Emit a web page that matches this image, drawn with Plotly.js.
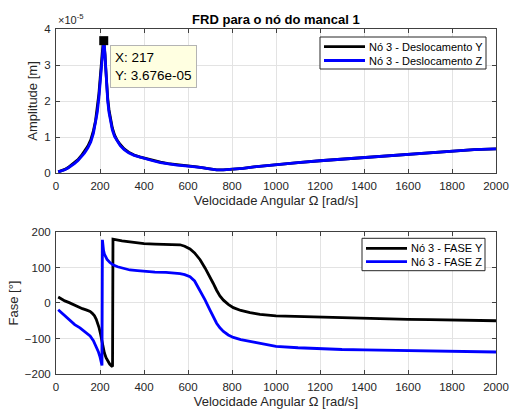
<!DOCTYPE html>
<html>
<head>
<meta charset="utf-8">
<script src="https://cdn.plot.ly/plotly-3.0.1.min.js"></script>
<style>html,body{margin:0;padding:0;background:#fff;}#chart{width:510px;height:410px;}</style>
</head>
<body>
<div id="chart"></div>
<script>
// Amplitude (units of 1e-5 m)
const ampW = [10, 25, 40, 55, 70, 85, 100, 115, 130, 145, 158, 170, 180, 188, 195, 201, 206, 210, 214, 217, 220, 223, 226, 230, 235, 241, 248, 256, 266, 278, 292, 310, 330, 355, 380, 410, 440, 475, 510, 550, 600, 640, 665, 690, 710, 730, 760, 800, 850, 900, 1000, 1100, 1200, 1300, 1400, 1500, 1600, 1700, 1800, 1900, 2000];
const ampY = [0.03, 0.055, 0.10, 0.15, 0.22, 0.29, 0.37, 0.48, 0.60, 0.75, 0.92, 1.17, 1.46, 1.80, 2.20, 2.65, 3.08, 3.40, 3.60, 3.64, 3.52, 3.28, 2.92, 2.48, 2.08, 1.75, 1.48, 1.25, 1.06, 0.91, 0.79, 0.67, 0.58, 0.50, 0.45, 0.40, 0.35, 0.30, 0.26, 0.225, 0.195, 0.17, 0.15, 0.12, 0.095, 0.085, 0.085, 0.10, 0.13, 0.17, 0.24, 0.29, 0.34, 0.385, 0.43, 0.48, 0.53, 0.575, 0.62, 0.65, 0.67];
const ampZ = [0.03, 0.05, 0.09, 0.14, 0.20, 0.27, 0.35, 0.45, 0.56, 0.70, 0.86, 1.10, 1.38, 1.70, 2.10, 2.55, 3.00, 3.35, 3.60, 3.676, 3.55, 3.25, 2.85, 2.40, 2.00, 1.68, 1.42, 1.20, 1.02, 0.88, 0.76, 0.65, 0.56, 0.49, 0.44, 0.39, 0.34, 0.29, 0.25, 0.22, 0.19, 0.17, 0.15, 0.12, 0.095, 0.085, 0.085, 0.10, 0.13, 0.17, 0.24, 0.29, 0.34, 0.385, 0.43, 0.48, 0.53, 0.575, 0.62, 0.65, 0.67];

// Phase (degrees)
const phWY = [10, 25, 40, 60, 80, 100, 120, 140, 155, 165, 175, 183, 190, 196, 202, 208, 214, 220, 228, 236, 244, 252, 257, 259, 265, 276, 300, 336, 370, 400, 450, 500, 540, 564, 585, 609, 630, 655, 678, 700, 715, 730, 745, 761, 783, 806, 840, 882, 927, 1000, 1100, 1200, 1300, 1400, 1500, 1600, 1700, 1800, 1900, 2000];
const phY  = [17, 11, 6, 1, -5, -11, -16, -20, -24, -29, -36, -46, -58, -70, -86, -105, -125, -141, -155, -165, -172, -177, -179, 180, 179, 177, 175, 172, 169, 167, 166, 165, 165, 164, 160, 152, 141, 122, 98, 74, 55, 36, 20, 8, -4, -13, -21, -27, -32, -36, -38, -40, -42, -43, -45, -46, -47, -48, -49, -50];
const phWZ = [10, 25, 40, 64, 85, 109, 130, 155, 170, 185, 193, 200, 205, 209, 211, 213, 216, 220, 225, 232, 245, 261, 280, 300, 336, 370, 400, 450, 500, 540, 564, 585, 609, 630, 655, 678, 700, 715, 730, 745, 761, 783, 806, 840, 882, 927, 1000, 1100, 1200, 1300, 1400, 1500, 1600, 1700, 1800, 1900, 2000];
const phZ  = [-19, -28, -35, -51, -61, -70, -80, -93, -106, -126, -138, -152, -164, -176, 178, 162, 148, 138, 130, 123, 114, 107, 102, 98, 93, 91, 89, 87, 86, 85, 83, 80, 74, 62, 36, 8, -20, -40, -57, -70, -80, -90, -97, -103, -108, -115, -122, -126, -129, -131, -132, -133, -134, -135, -136, -137, -138];

const tipX = 217, tipY = 3.676;
const legendTop = ['Nó 3 - Deslocamento Y', 'Nó 3 - Deslocamento Z'];
const legendBot = ['Nó 3 - FASE Y', 'Nó 3 - FASE Z'];
const seriesColors = ['#000000', '#0000ff'];

const F = 'Liberation Sans, Arial, sans-serif';
const TXT = '#262626';
const LW = 2.8;

const traces = [
  {x: ampW, y: ampY, name: legendTop[0], type: 'scatter', mode: 'lines', line: {color: seriesColors[0], width: LW}, xaxis: 'x', yaxis: 'y'},
  {x: ampW, y: ampZ, name: legendTop[1], type: 'scatter', mode: 'lines', line: {color: seriesColors[1], width: LW}, xaxis: 'x', yaxis: 'y'},
  {x: [tipX], y: [tipY], type: 'scatter', mode: 'markers', marker: {symbol: 'square', size: 9, color: '#000000'}, hoverinfo: 'skip', xaxis: 'x', yaxis: 'y'},
  {x: phWY, y: phY, name: legendBot[0], type: 'scatter', mode: 'lines', line: {color: seriesColors[0], width: LW}, xaxis: 'x2', yaxis: 'y2'},
  {x: phWZ, y: phZ, name: legendBot[1], type: 'scatter', mode: 'lines', line: {color: seriesColors[1], width: LW}, xaxis: 'x2', yaxis: 'y2'}
];

function xax(anchor) {
  return {
    anchor: anchor, range: [0, 2000], dtick: 200, tick0: 0,
    ticks: 'inside', ticklen: 4, tickcolor: '#404040', tickwidth: 1,
    showline: true, linecolor: '#404040', linewidth: 1, mirror: 'ticks',
    showgrid: true, gridcolor: '#e3e3e3', zeroline: false,
    tickfont: {family: F, size: 11.5, color: TXT},
    ticklabelstandoff: 2,
    title: {text: 'Velocidade Angular Ω [rad/s]', font: {family: F, size: 13, color: TXT}, standoff: 5}
  };
}
function yax(domain, range, dtick, title) {
  return {
    domain: domain, range: range, dtick: dtick,
    ticks: 'inside', ticklen: 4, tickcolor: '#404040', tickwidth: 1,
    showline: true, linecolor: '#404040', linewidth: 1, mirror: 'ticks',
    showgrid: true, gridcolor: '#e3e3e3', zeroline: false,
    tickfont: {family: F, size: 11.5, color: TXT},
    ticklabelstandoff: 2,
    title: {text: title, font: {family: F, size: 13, color: TXT}, standoff: 3}
  };
}

// pixel helpers for legend boxes (plot area: x 56..496, y 29..374)
const PX = v => (v - 56) / 440;
const PY = v => (374 - v) / 345;

const shapes = [];
const annotations = [
  {xref: 'paper', yref: 'paper', x: 0, y: 1, xanchor: 'left', yanchor: 'bottom', yshift: 1, showarrow: false,
   text: '×10<sup>-5</sup>', font: {family: F, size: 11, color: TXT}},
  {xref: 'x', yref: 'y', x: tipX, y: tipY, xanchor: 'left', yanchor: 'top', xshift: 6, yshift: -4, showarrow: false,
   align: 'left', text: 'X: ' + tipX + '<br>Y: ' + (tipY * 1e-5).toExponential(3).replace('e-5', 'e-05'),
   font: {family: F, size: 13.5, color: '#000000'}, bgcolor: '#ffffe1', bordercolor: '#b4b4b4', borderwidth: 1, borderpad: 4}
];

function addLegend(names, box, lineX0, lineX1, textX, rows) {
  shapes.push({type: 'rect', xref: 'paper', yref: 'paper', x0: PX(box[0]), x1: PX(box[1]), y0: PY(box[3]), y1: PY(box[2]),
               line: {color: '#262626', width: 1}, fillcolor: '#ffffff', layer: 'above'});
  names.forEach((n, i) => {
    shapes.push({type: 'line', xref: 'paper', yref: 'paper', x0: PX(lineX0), x1: PX(lineX1), y0: PY(rows[i]), y1: PY(rows[i]),
                 line: {color: seriesColors[i], width: LW}, layer: 'above'});
    annotations.push({xref: 'paper', yref: 'paper', x: PX(textX), y: PY(rows[i]), xanchor: 'left', yanchor: 'middle',
                      showarrow: false, text: n, font: {family: F, size: 11, color: '#000000'}});
  });
}
addLegend(legendTop, [320, 486, 37, 69], 324, 365, 367, [46.7, 60.5]);
addLegend(legendBot, [362, 485, 238.3, 270.7], 366, 407, 408.5, [248.3, 261.7]);

const layout = {
  width: 510, height: 410,
  margin: {l: 56, r: 14, t: 29, b: 36},
  paper_bgcolor: '#ffffff', plot_bgcolor: '#ffffff',
  showlegend: false,
  title: {text: '<b>FRD para o nó do mancal 1</b>', font: {family: F, size: 13, color: '#000000'}, x: 0.541, xanchor: 'center', yref: 'container', y: (410 - 19) / 410, yanchor: 'middle'},
  xaxis: xax('y'),
  yaxis: yax([0.5826, 1], [0, 4], 1, 'Amplitude [m]'),
  xaxis2: xax('y2'),
  yaxis2: yax([0, 0.4116], [-200, 200], 100, 'Fase [°]'),
  shapes: shapes,
  annotations: annotations
};

Plotly.newPlot('chart', traces, layout, {staticPlot: true, displayModeBar: false});
</script>
</body>
</html>
